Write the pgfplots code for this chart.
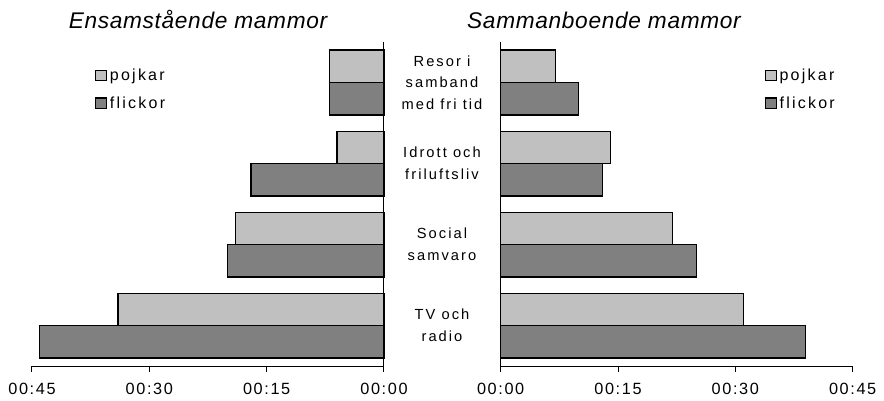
\documentclass[border=0pt]{standalone}
\usepackage{fontspec}
\setmainfont{Liberation Sans}
\newfontfamily\tickf[LetterSpace=10]{Liberation Sans}
\newfontfamily\legf[LetterSpace=14]{Liberation Sans}
\newfontfamily\catf[LetterSpace=14]{Liberation Sans}
\newfontfamily\titlef[LetterSpace=3]{Liberation Sans}
\usepackage{pgfplots}
\pgfplotsset{compat=1.18}
\definecolor{pojk}{RGB}{192,192,192}
\definecolor{flick}{RGB}{128,128,128}
\pgfplotsset{
  halfaxis/.style={
    scale only axis, width=264pt, height=243pt,
    ymin=-0.5, ymax=3.5, ytick=\empty,
    xbar, bar width=0.4, clip=false,
    axis x line*=bottom,
    axis line style={line width=0.75pt},
    tick style={line width=0.75pt, black},
    tick align=outside, major tick length=4.5pt,
    /pgf/number format/assume math mode=true,
    xticklabel style={font=\tickf\fontsize{12.2}{14}\selectfont, yshift=-5pt},
    legend cell align=left,
    legend style={draw=none, fill=none, inner sep=0pt,
      font=\legf\fontsize{12}{14}\selectfont, row sep=10.5pt,
      nodes={inner xsep=2pt, inner ysep=0pt}},
    legend image code/.code={\draw[##1, line width=0.8pt] (0pt,-3.9pt) rectangle (8.2pt,3.9pt);},
  },
  pbar/.style={fill=pojk, draw=black, line width=0.9pt, bar shift=0.2},
  fbar/.style={fill=flick, draw=black, line width=0.9pt, bar shift=-0.2},
}
\begin{document}
\begin{tikzpicture}
\path[use as bounding box] (0,0) rectangle (663pt,300pt);
\begin{axis}[halfaxis, at={(24pt,25.5pt)}, anchor=south west,
    xmin=-45, xmax=0, axis y line*=right,
    xtick={-45,-30,-15,0}, xticklabels={00:45,00:30,00:15,00:00},
    legend style={at={(0.179,0.918)}, anchor=north west}]
\addplot[pbar] coordinates {(-34,0) (-19,1) (-6,2) (-7,3)};
\addplot[fbar] coordinates {(-44,0) (-20,1) (-17,2) (-7,3)};
\legend{pojkar,flickor}
\begin{scope}[every node/.style={align=center, xshift=43.5pt,
    font=\catf\fontsize{11}{16.3}\selectfont}]
\node at (axis cs:0,3) {Resor i\\samband\\med fri tid};
\node at (axis cs:0,2) {Idrott och\\friluftsliv};
\node at (axis cs:0,1) {Social\\samvaro};
\node at (axis cs:0,0) {TV och\\radio};
\end{scope}
\end{axis}
\begin{axis}[halfaxis, at={(375.5pt,25.5pt)}, anchor=south west,
    xmin=0, xmax=45, axis y line*=left,
    xtick={0,15,30,45}, xticklabels={00:00,00:15,00:30,00:45},
    legend style={at={(0.75,0.918)}, anchor=north west}]
\addplot[pbar] coordinates {(31,0) (22,1) (14,2) (7,3)};
\addplot[fbar] coordinates {(39,0) (25,1) (13,2) (10,3)};
\legend{pojkar,flickor}
\end{axis}
\node[anchor=base, font=\titlef\itshape\fontsize{17}{20}\selectfont] at (148.5pt,278.8pt) {Ensamstående mammor};
\node[anchor=base, font=\titlef\itshape\fontsize{17}{20}\selectfont] at (453pt,278.8pt) {Sammanboende mammor};
\end{tikzpicture}
\end{document}
